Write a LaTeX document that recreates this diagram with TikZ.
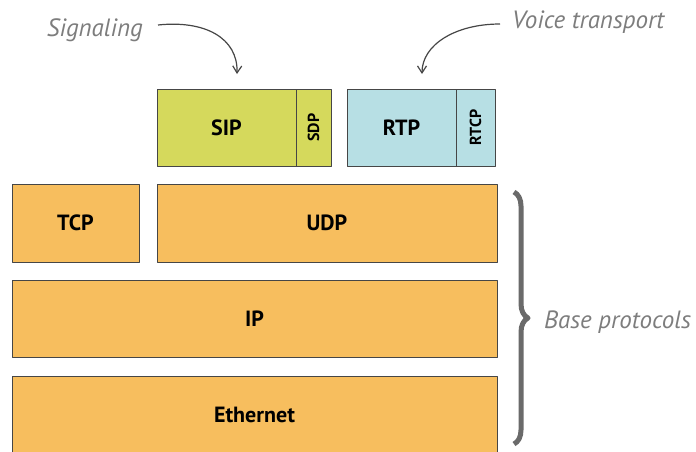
\documentclass[tikz,border=0pt]{standalone}
\usepackage{fontspec}
\setmainfont{PT Sans}
\usetikzlibrary{decorations.pathreplacing,arrows.meta}
\definecolor{sipgreen}{RGB}{213,217,92}
\definecolor{rtpblue}{RGB}{183,223,228}
\definecolor{baseorange}{RGB}{247,190,94}
\definecolor{edgegray}{RGB}{70,70,70}
\definecolor{notegray}{RGB}{125,125,125}
\tikzset{
	layer/.style={draw=edgegray, line width=1pt, inner sep=0pt, outer sep=0pt, anchor=north west, font=\fontsize{22}{26}\selectfont\bfseries},
	sublayer/.style={layer, font=\fontsize{16}{18}\selectfont\bfseries},
	note/.style={text=notegray, font=\fontsize{25}{29}\selectfont\itshape, inner sep=0pt},
	curvearrow/.style={draw=edgegray, line width=1.2pt, -{Straight Barb[length=7pt,width=9pt]}}
}
\begin{document}
\begin{tikzpicture}[x=1pt,y=-1pt,line join=round]
	\useasboundingbox (0,0) rectangle (696,451);
	\clip (0,0) rectangle (696,451);
	% upper layer
	\node[layer, fill=sipgreen, minimum width=139pt, minimum height=77pt] (sip) at (157,89) {SIP};
	\node[sublayer, fill=sipgreen, minimum width=35pt, minimum height=77pt] (sdp) at (296,89) {\rotatebox{90}{SDP}};
	\node[layer, fill=rtpblue, minimum width=109pt, minimum height=77pt] (rtp) at (347,89) {RTP};
	\node[sublayer, fill=rtpblue, minimum width=39pt, minimum height=77pt] (rtcp) at (456,89) {\rotatebox{90}{RTCP}};
	% base protocols
	\node[layer, fill=baseorange, minimum width=127pt, minimum height=78pt] (tcp) at (12,184) {TCP};
	\node[layer, fill=baseorange, minimum width=340pt, minimum height=78pt] (udp) at (157,184) {UDP};
	\node[layer, fill=baseorange, minimum width=485pt, minimum height=77pt] (ip) at (12,280) {IP};
	\node[layer, fill=baseorange, minimum width=485pt, minimum height=77pt] (eth) at (12,376) {Ethernet};
	% notes
	\node[note, anchor=east] (signal) at (143,30) {Signaling};
	\node[note, anchor=west] (voice) at (512,22) {Voice transport};
	\node[note, anchor=west] (base) at (544,322) {Base protocols};
	\coordinate (sigstart) at (158,25);
	\coordinate (sigtip) at (237,74);
	\coordinate (voicestart) at (500,24);
	\coordinate (voicetip) at (422,74);
	\draw[curvearrow] (sigstart) .. controls (205,20) and (238,38) .. (sigtip);
	\draw[curvearrow] (voicestart) .. controls (455,24) and (422,45) .. (voicetip);
	\draw[notegray!85!black, line width=5pt, decorate, decoration={brace, amplitude=14pt}] (514,192) -- (514,444);
\end{tikzpicture}
\end{document}
